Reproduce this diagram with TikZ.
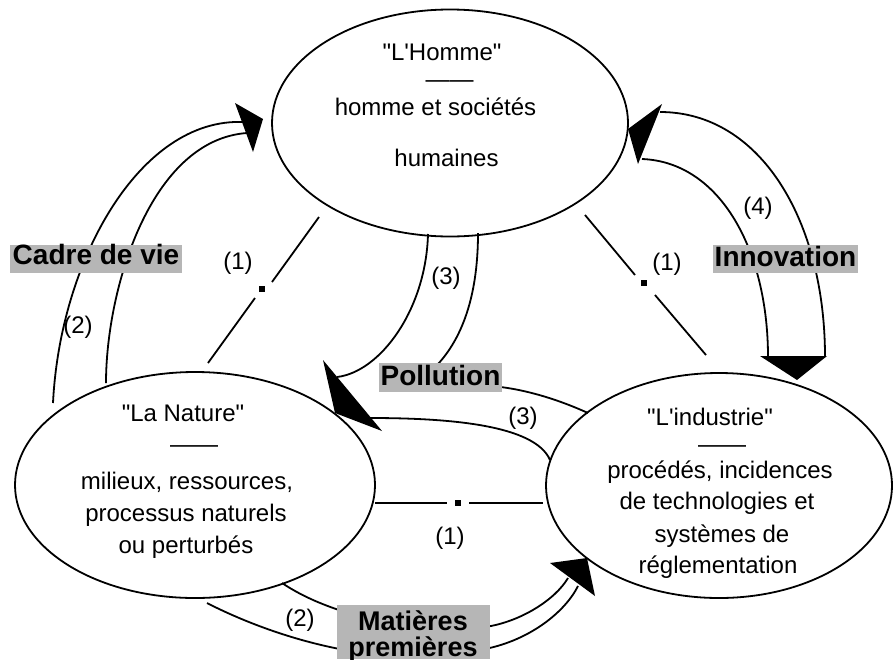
\documentclass[tikz,border=0pt]{standalone}
\usepackage{fontspec}
\setmainfont{Liberation Sans}[Ligatures=TeXOff]
\usetikzlibrary{shapes.geometric}
\definecolor{boxgray}{RGB}{182,182,182}
\begin{document}
\begin{tikzpicture}[x=0.5pt,y=-0.5pt,
  ell/.style={draw,ellipse,line width=0.9pt,inner sep=0pt,outer sep=0pt},
  txt/.style={anchor=base,font=\fontsize{12}{14}\selectfont,inner sep=0pt},
  num/.style={font=\fontsize{12}{14}\selectfont,inner sep=0pt},
  lbl/.style={fill=boxgray,font=\bfseries\fontsize{14}{16}\selectfont,inner sep=0pt},
  btxt/.style={anchor=base,font=\bfseries\fontsize{13.5}{15}\selectfont,inner sep=0pt},
  conn/.style={line width=0.9pt},
  dotsq/.style={fill=black,rectangle,minimum size=2.6pt,inner sep=0pt},
  head/.style={fill=black}]
\useasboundingbox (0,0) rectangle (893,659);

% ellipses
\node[ell,minimum width=178pt,minimum height=113.5pt] (homme) at (450,123) {};
\node[ell,minimum width=180pt,minimum height=113pt] (nature) at (195,485) {};
\node[ell,minimum width=173pt,minimum height=112.5pt] (indus) at (719,485.5) {};

% texts
\node[txt] (h1) at (442,60) {"L'Homme"};
\node[txt] (h2) at (449.5,87.5) {——};
\node[txt] (h3) at (435.5,115) {homme et sociétés};
\node[txt] (h4) at (446.5,166) {humaines};

\node[txt] (n1) at (183,421) {"La Nature"};
\node[txt] (n2) at (194,452.5) {——};
\node[txt] (n3) at (187,489) {milieux, ressources,};
\node[txt] (n4) at (186,521) {processus naturels};
\node[txt] (n5) at (186,553) {ou perturbés};

\node[txt] (i1) at (710,425) {"L'industrie"};
\node[txt] (i2) at (722,452.5) {——};
\node[txt] (i3) at (720,478) {procédés, incidences};
\node[txt] (i4) at (717,509) {de technologies et};
\node[txt] (i5) at (722,542) {systèmes de};
\node[txt] (i6) at (718,573) {réglementation};

% (1) links
\coordinate (a1) at (319,217); \coordinate (a2) at (272,282);
\coordinate (a3) at (255,298); \coordinate (a4) at (208,363);
\draw[conn] (a1) -- (a2); \draw[conn] (a3) -- (a4);
\node[dotsq] (d1) at (262,289) {};
\coordinate (b1) at (585,215); \coordinate (b2) at (635,275);
\coordinate (b3) at (655,295); \coordinate (b4) at (706,355);
\draw[conn] (b1) -- (b2); \draw[conn] (b3) -- (b4);
\node[dotsq] (d2) at (644,283) {};
\coordinate (c1) at (375,503); \coordinate (c2) at (447,503);
\coordinate (c3) at (469,503); \coordinate (c4) at (543,503);
\draw[conn] (c1) -- (c2); \draw[conn] (c3) -- (c4);
\node[dotsq] (d3) at (458,503) {};

% Cadre de vie (2)
\coordinate (cA) at (53,403); \coordinate (cB) at (243,122);
\coordinate (cC) at (106,383); \coordinate (cD) at (247,133);
\draw[conn] (cA) .. controls (60,260) and (140,118) .. (cB);
\draw[conn] (cC) .. controls (106,290) and (150,140) .. (cD);
\fill[head] (235,103) -- (253,152) -- (263,119) -- cycle;

% Pollution (3)
\coordinate (pA) at (428,234); \coordinate (pB) at (337,377);
\coordinate (pC) at (478,233); \coordinate (pD) at (430,372);
\coordinate (pE) at (588,413); \coordinate (pF) at (490,386);
\coordinate (pG) at (550,460); \coordinate (pH) at (370,418);
\draw[conn] (pA) .. controls (426,310) and (380,372) .. (pB);
\draw[conn] (pC) .. controls (478,300) and (460,345) .. (pD);
\draw[conn] (pE) .. controls (555,398) and (520,388) .. (pF);
\draw[conn] (pG) .. controls (535,425) and (450,418) .. (pH);
\fill[head] (323,360) -- (382,431) -- (335,413) -- cycle;

% Innovation (4)
\coordinate (vA) at (660,112); \coordinate (vB) at (825,357);
\coordinate (vC) at (642,159); \coordinate (vD) at (768,357);
\draw[conn] (vA) .. controls (760,112) and (825,220) .. (vB);
\draw[conn] (vC) .. controls (720,162) and (768,250) .. (vD);
\fill[head] (662,104) -- (638,164) -- (628,129) -- cycle;
\fill[head] (760,356) -- (827,356) -- (797,380) -- cycle;

% Matieres premieres (2)
\coordinate (mA) at (282,583); \coordinate (mB) at (345,612);
\coordinate (mC) at (207,603); \coordinate (mD) at (345,650);
\coordinate (mE) at (485,627); \coordinate (mF) at (568,578);
\coordinate (mG) at (485,649); \coordinate (mH) at (578,586);
\draw[conn] (mA) .. controls (300,595) and (320,604) .. (mB);
\draw[conn] (mC) .. controls (240,620) and (290,640) .. (mD);
\draw[conn] (mE) .. controls (520,622) and (555,600) .. (mF);
\draw[conn] (mG) .. controls (530,640) and (565,612) .. (mH);
\fill[head] (550,563) -- (595,596) -- (587,558) -- cycle;

% number labels
\node[num] (l1a) at (238,263) {(1)};
\node[num] (l1b) at (667,264) {(1)};
\node[num] (l1c) at (450,538) {(1)};
\node[num] (l2a) at (78,327) {(2)};
\node[num] (l2b) at (300,620) {(2)};
\node[num] (l3a) at (446,278) {(3)};
\node[num] (l3b) at (523,418) {(3)};
\node[num] (l4) at (758,208) {(4)};

% gray labels
\node[lbl,minimum width=86pt,text height=9.5pt,text depth=4.5pt] (cadre) at (96,259) {Cadre de vie};
\node[lbl,minimum width=72.5pt,text height=10.85pt,text depth=3.15pt] (innov) at (785.5,259) {Innovation};
\node[lbl,minimum width=61.5pt,text height=11pt,text depth=3.5pt] (poll) at (440.5,377.5) {Pollution};
\node[fill=boxgray,inner sep=0pt,minimum width=76.5pt,minimum height=27pt] (matbox) at (413.5,632) {};
\node[btxt] (mat1) at (413,630) {Matières};
\node[btxt] (mat2) at (413,656) {premières};
\end{tikzpicture}
\end{document}
